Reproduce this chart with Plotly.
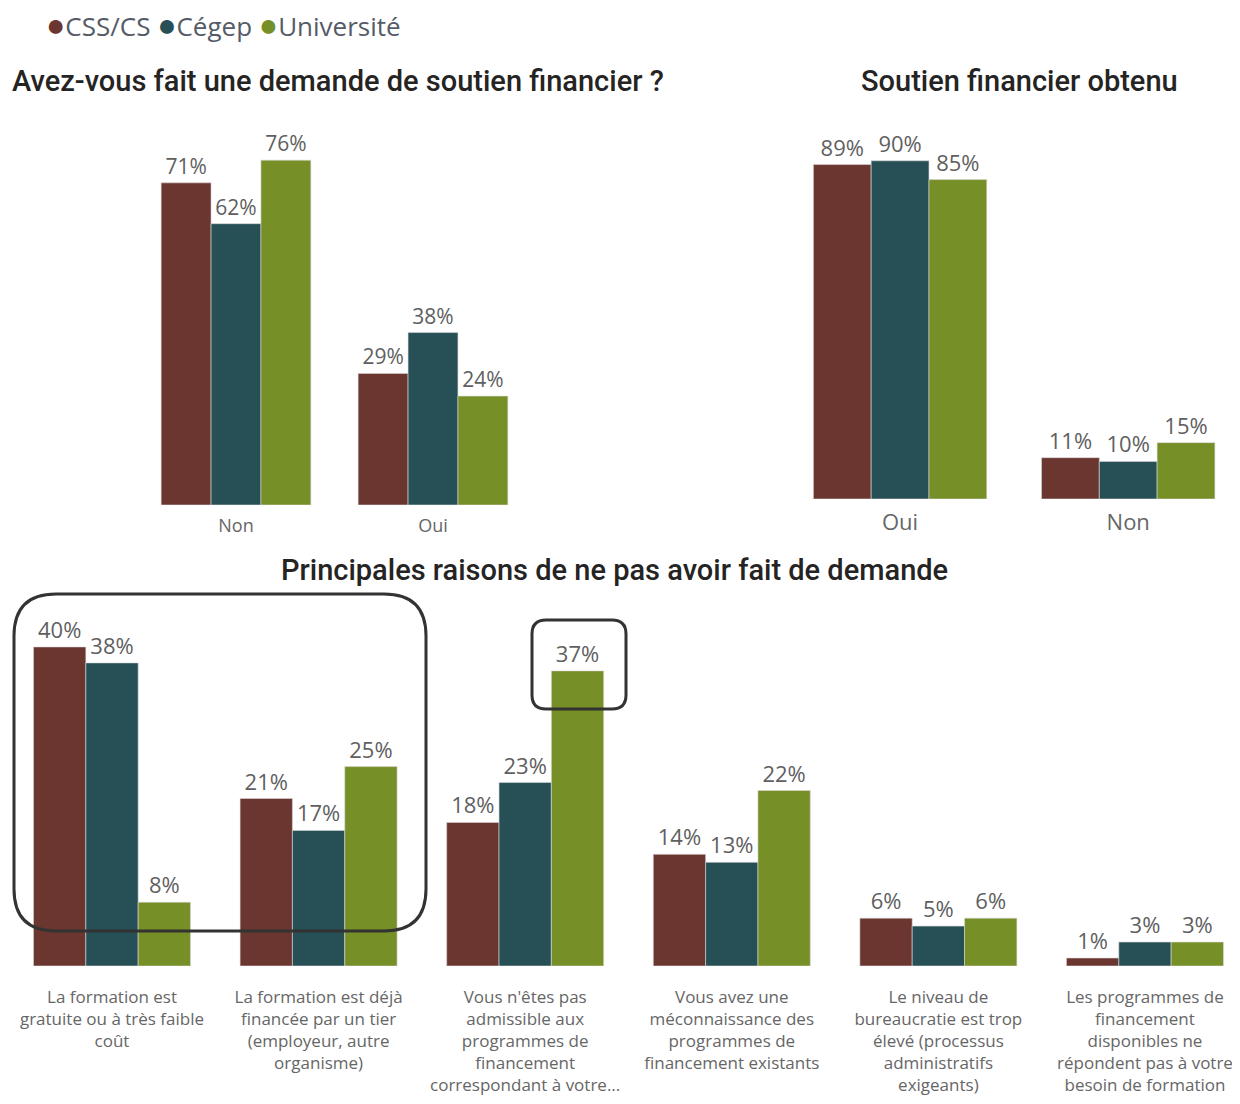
import plotly.graph_objects as go

# page is photographed at 1240x1104; the html body adds an 8px margin
PAGE_W, PAGE_H = 1240, 1104
OFF = 8
W, H = PAGE_W - OFF, PAGE_H - OFF

series = ["CSS/CS", "Cégep", "Université"]
colors = ["#6b3630", "#264f56", "#778f27"]

# Avez-vous fait une demande de soutien financier ?
cat_demande = ["Non", "Oui"]
css_demande = [71, 29]
cegep_demande = [62, 38]
univ_demande = [76, 24]

# Soutien financier obtenu
cat_obtenu = ["Oui", "Non"]
css_obtenu = [89, 11]
cegep_obtenu = [90, 10]
univ_obtenu = [85, 15]

# Principales raisons de ne pas avoir fait de demande
cat_raisons = [
    "La formation est<br>gratuite ou à très faible<br>coût",
    "La formation est déjà<br>financée par un tier<br>(employeur, autre<br>organisme)",
    "Vous n'êtes pas<br>admissible aux<br>programmes de<br>financement<br>correspondant à votre...",
    "Vous avez une<br>méconnaissance des<br>programmes de<br>financement existants",
    "Le niveau de<br>bureaucratie est trop<br>élevé (processus<br>administratifs<br>exigeants)",
    "Les programmes de<br>financement<br>disponibles ne<br>répondent pas à votre<br>besoin de formation",
]
css_raisons = [40, 21, 18, 14, 6, 1]
cegep_raisons = [38, 17, 23, 13, 5, 3]
univ_raisons = [8, 25, 37, 22, 6, 3]

TXT = "#5f5f5f"
FONT = "Open Sans"


def px_x(v):
    # page pixel -> paper fraction
    return (v - OFF) / W


def px_y(v):
    return 1 - (v - OFF) / H


fig = go.Figure()

groups = [
    ("x", "y", cat_demande, [css_demande, cegep_demande, univ_demande], 21),
    ("x2", "y2", cat_obtenu, [css_obtenu, cegep_obtenu, univ_obtenu], 22),
    ("x3", "y3", cat_raisons, [css_raisons, cegep_raisons, univ_raisons], 22),
]
for xa, ya, cats, vals, fs in groups:
    for name, col, v in zip(series, colors, vals):
        fig.add_trace(go.Bar(
            x=cats, y=v, name=name, xaxis=xa, yaxis=ya,
            marker=dict(color=col, line=dict(color="#d8d8d8", width=0.6)),
            texttemplate="%{y}%", textposition="outside",
            textfont=dict(family=FONT, size=fs, color=TXT),
            cliponaxis=False, constraintext="none", showlegend=False,
        ))

noaxis = dict(showgrid=False, zeroline=False, showline=False, ticks="")
fig.update_layout(
    width=W, height=H,
    margin=dict(l=0, r=0, t=0, b=0),
    paper_bgcolor="white", plot_bgcolor="white",
    barmode="group", bargap=0.24, bargroupgap=0,
    xaxis=dict(domain=[px_x(137.5), px_x(531.5)], range=[-0.5, 1.5], anchor="y",
               tickfont=dict(family=FONT, size=18, color="#666"),
               ticklabelstandoff=8, **noaxis),
    yaxis=dict(domain=[px_y(505), px_y(142)], range=[0, 80], visible=False,
               anchor="x"),
    xaxis2=dict(domain=[px_x(786), 1], range=[-0.5, 1.49], anchor="y2",
                tickfont=dict(family=FONT, size=22, color="#666"),
                ticklabelstandoff=8, **noaxis),
    yaxis2=dict(domain=[px_y(499), px_y(142)], range=[0, 95], visible=False,
                anchor="x2"),
    xaxis3=dict(domain=[px_x(8.7), 1], range=[-0.5, 5.46], anchor="y3",
                tickfont=dict(family=FONT, size=17, color="#666"),
                ticklabelstandoff=19, **noaxis),
    yaxis3=dict(domain=[px_y(966), px_y(631)], range=[0, 42], visible=False,
                anchor="x3"),
)

legend_txt = " ".join(
    f"<span style='color:{c};font-size:32px'>●</span>{s}"
    for s, c in zip(series, colors)
)
fig.add_annotation(text=legend_txt, xref="paper", yref="paper",
                   x=px_x(44), y=px_y(23), xanchor="left", yanchor="middle",
                   showarrow=False,
                   font=dict(family=FONT, size=26, color="#555b66"))

titles = [
    ("Avez-vous fait une demande de soutien financier ?", 10, 81, "left"),
    ("Soutien financier obtenu", 1019, 81, "center"),
    ("Principales raisons de ne pas avoir fait de demande", 614, 570, "center"),
]
for t, x, y, anc in titles:
    fig.add_annotation(text=t, xref="paper", yref="paper",
                       x=px_x(x), y=px_y(y), xanchor=anc, yanchor="middle",
                       showarrow=False,
                       font=dict(family="Roboto", size=29, weight=500,
                                 color="#252423"))

# rounded highlight boxes, given in page pixels
boxes = [(14, 594, 426, 931, 42), (532, 620, 626, 709, 14)]
for x0, y0, x1, y1, r in boxes:
    rx, ry = r / W, r / H
    a, b, c, d = px_x(x0), px_y(y1), px_x(x1), px_y(y0)
    path = (f"M{a+rx},{b} L{c-rx},{b} Q{c},{b} {c},{b+ry} "
            f"L{c},{d-ry} Q{c},{d} {c-rx},{d} L{a+rx},{d} "
            f"Q{a},{d} {a},{d-ry} L{a},{b+ry} Q{a},{b} {a+rx},{b} Z")
    fig.add_shape(type="path", xref="paper", yref="paper", path=path,
                  line=dict(color="#333333", width=3))

fig.write_html("out.html")
